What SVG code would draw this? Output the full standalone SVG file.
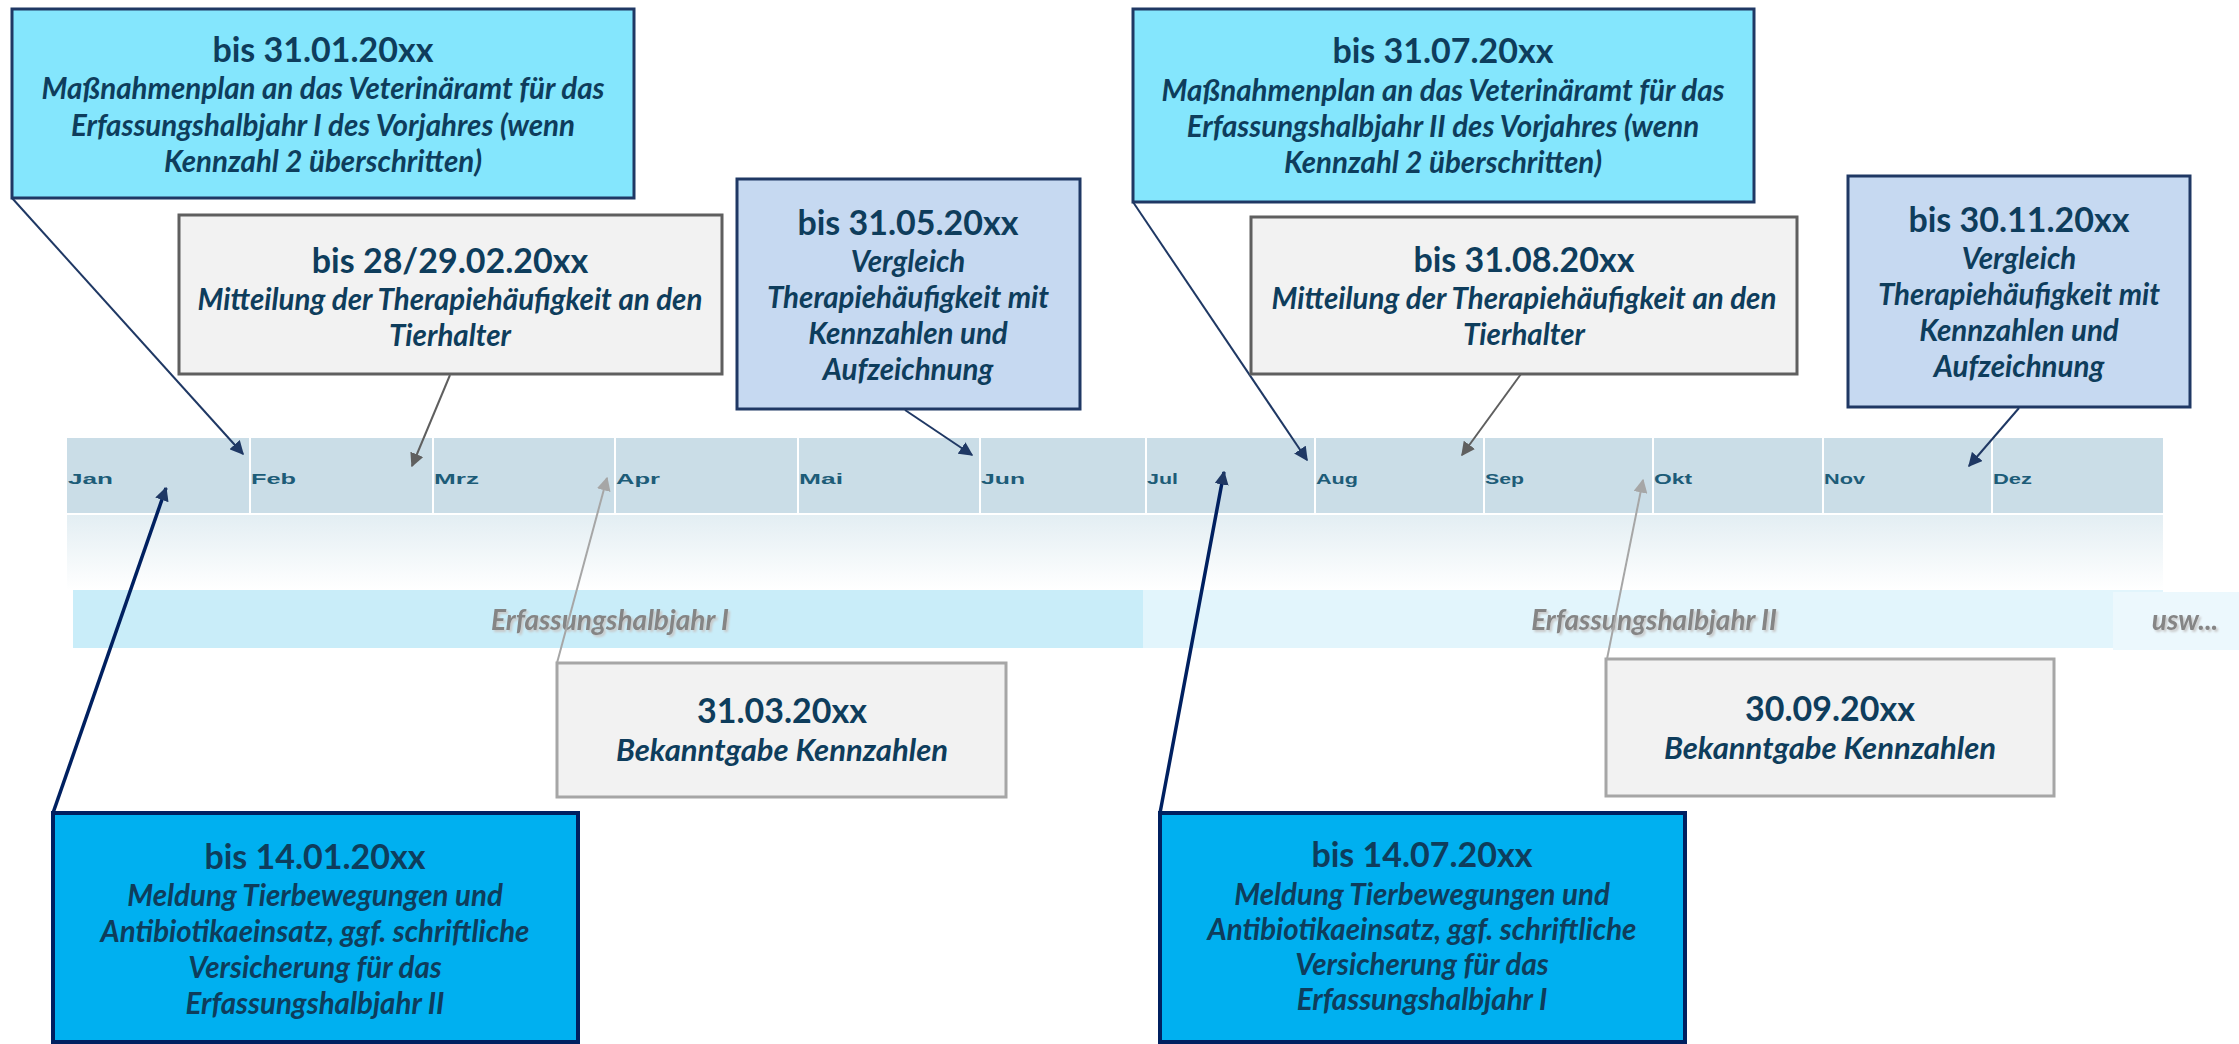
<svg xmlns="http://www.w3.org/2000/svg" width="2239" height="1044" viewBox="0 0 2239 1044">
<style>
.t{font-family:Lato,"Open Sans",sans-serif;font-weight:bold;font-size:34px;fill:#0E3D5C;text-anchor:middle}
.b{font-family:Lato,"Open Sans",sans-serif;font-weight:bold;font-style:italic;font-size:29.5px;fill:#0E3D5C;text-anchor:middle}
.b2{font-family:Lato,"Open Sans",sans-serif;font-weight:bold;font-style:italic;font-size:31px;fill:#0E3D5C;text-anchor:middle}
.m{font-family:"Liberation Sans",Arial,sans-serif;font-weight:bold;font-size:15.5px;fill:#1D5C78}
.h{font-family:Lato,"Open Sans",sans-serif;font-weight:bold;font-style:italic;font-size:28px;fill:#858585;text-anchor:middle;filter:url(#sh)}
.cyan{fill:#84E6FD;stroke:#1F3864;stroke-width:3}
.lb{fill:#C6D9F1;stroke:#1F3864;stroke-width:3}
.gr{fill:#F2F2F2;stroke:#5F5F5F;stroke-width:3}
.gr2{fill:#F2F2F2;stroke:#A6A6A6;stroke-width:3}
.strong{fill:#00B0F0;stroke:#002060;stroke-width:4}
.cn{stroke:#1F3864;stroke-width:2;fill:none;marker-end:url(#an)}
.cnt{stroke:#002060;stroke-width:3.5;fill:none;marker-end:url(#an)}
.cg{stroke:#5F5F5F;stroke-width:2;fill:none;marker-end:url(#ag)}
.cl{stroke:#A6A6A6;stroke-width:2;fill:none;marker-end:url(#al)}
.cell{fill:#CADDE7}
.sep{stroke:#FFFFFF;stroke-width:2}
</style>
<defs>
<marker id="an" viewBox="0 0 10 10" refX="9" refY="5" markerWidth="14" markerHeight="14" markerUnits="userSpaceOnUse" orient="auto"><path d="M0,0 L10,5 L0,10 z" fill="#1F3864"/></marker>
<marker id="ag" viewBox="0 0 10 10" refX="9" refY="5" markerWidth="14" markerHeight="14" markerUnits="userSpaceOnUse" orient="auto"><path d="M0,0 L10,5 L0,10 z" fill="#5F5F5F"/></marker>
<marker id="al" viewBox="0 0 10 10" refX="9" refY="5" markerWidth="14" markerHeight="14" markerUnits="userSpaceOnUse" orient="auto"><path d="M0,0 L10,5 L0,10 z" fill="#A6A6A6"/></marker>
<linearGradient id="fade" x1="0" y1="0" x2="0" y2="1"><stop offset="0" stop-color="#E3EEF3"/><stop offset="1" stop-color="#FFFFFF"/></linearGradient>
<filter id="sh" x="-10%" y="-30%" width="120%" height="160%"><feDropShadow dx="2" dy="2" stdDeviation="1" flood-color="#C8C8C8"/></filter>
</defs>
<rect width="2239" height="1044" fill="#FFFFFF"/>

<g id="timeline">
<rect class="cell" x="67" y="438" width="2096" height="76"/>
<rect x="67" y="515" width="2096" height="75" fill="url(#fade)"/>
<g class="sep">
<line x1="250" y1="438" x2="250" y2="514"/><line x1="433" y1="438" x2="433" y2="514"/><line x1="615" y1="438" x2="615" y2="514"/><line x1="798" y1="438" x2="798" y2="514"/><line x1="980" y1="438" x2="980" y2="514"/><line x1="1146" y1="438" x2="1146" y2="514"/><line x1="1315" y1="438" x2="1315" y2="514"/><line x1="1484" y1="438" x2="1484" y2="514"/><line x1="1653" y1="438" x2="1653" y2="514"/><line x1="1823" y1="438" x2="1823" y2="514"/><line x1="1992" y1="438" x2="1992" y2="514"/>
<line x1="67" y1="514" x2="2163" y2="514"/>
</g>
<text class="m" x="68" y="484" textLength="45" lengthAdjust="spacingAndGlyphs">Jan</text>
<text class="m" x="251" y="484" textLength="45" lengthAdjust="spacingAndGlyphs">Feb</text>
<text class="m" x="434" y="484" textLength="45" lengthAdjust="spacingAndGlyphs">Mrz</text>
<text class="m" x="616" y="484" textLength="44" lengthAdjust="spacingAndGlyphs">Apr</text>
<text class="m" x="799" y="484" textLength="44" lengthAdjust="spacingAndGlyphs">Mai</text>
<text class="m" x="981" y="484" textLength="44" lengthAdjust="spacingAndGlyphs">Jun</text>
<text class="m" x="1147" y="484" textLength="31" lengthAdjust="spacingAndGlyphs">Jul</text>
<text class="m" x="1316" y="484" textLength="42" lengthAdjust="spacingAndGlyphs">Aug</text>
<text class="m" x="1485" y="484" textLength="39" lengthAdjust="spacingAndGlyphs">Sep</text>
<text class="m" x="1654" y="484" textLength="38" lengthAdjust="spacingAndGlyphs">Okt</text>
<text class="m" x="1824" y="484" textLength="41" lengthAdjust="spacingAndGlyphs">Nov</text>
<text class="m" x="1993" y="484" textLength="39" lengthAdjust="spacingAndGlyphs">Dez</text>
</g>

<g id="halbjahre">
<rect x="73" y="590" width="1070" height="58" fill="#C9EDF9"/>
<rect x="1143" y="590" width="1020" height="58" fill="#E2F5FC"/>
<rect x="2113" y="592" width="126" height="58" fill="#ECF8FD"/>
<text class="h" x="610" y="630">Erfassungshalbjahr I</text>
<text class="h" x="1654" y="630">Erfassungshalbjahr II</text>
<text class="h" x="2185" y="630">usw...</text>
</g>

<g id="connectors">
<line class="cn" x1="12" y1="198" x2="243" y2="454"/>
<line class="cg" x1="450" y1="375" x2="412" y2="466"/>
<line class="cn" x1="905" y1="410" x2="972" y2="455"/>
<line class="cn" x1="1133" y1="202" x2="1307" y2="460"/>
<line class="cg" x1="1521" y1="374" x2="1462" y2="455"/>
<line class="cn" x1="2019" y1="408" x2="1969" y2="466"/>
<line class="cnt" x1="53" y1="813" x2="166" y2="488"/>
<line class="cl" x1="557" y1="663" x2="607" y2="478"/>
<line class="cnt" x1="1160" y1="813" x2="1224" y2="472"/>
<line class="cl" x1="1607" y1="659" x2="1643" y2="480"/>
</g>

<g id="n-31-01">
<rect class="cyan" x="12" y="9" width="622" height="189"/>
<text class="t" x="323" y="62">bis 31.01.20xx</text>
<text class="b" x="323" y="99">Maßnahmenplan an das Veterinäramt für das</text>
<text class="b" x="323" y="136">Erfassungshalbjahr I des Vorjahres (wenn</text>
<text class="b" x="323" y="172">Kennzahl 2 überschritten)</text>
</g>

<g id="n-28-02">
<rect class="gr" x="179" y="215" width="543" height="159"/>
<text class="t" x="450" y="273">bis 28/29.02.20xx</text>
<text class="b" x="450" y="310">Mitteilung der Therapiehäufigkeit an den</text>
<text class="b" x="450" y="346">Tierhalter</text>
</g>

<g id="n-31-05">
<rect class="lb" x="737" y="179" width="343" height="230"/>
<text class="t" x="908" y="235">bis 31.05.20xx</text>
<text class="b" x="908" y="272">Vergleich</text>
<text class="b" x="908" y="308">Therapiehäufigkeit mit</text>
<text class="b" x="908" y="344">Kennzahlen und</text>
<text class="b" x="908" y="380">Aufzeichnung</text>
</g>

<g id="n-31-07">
<rect class="cyan" x="1133" y="9" width="621" height="193"/>
<text class="t" x="1443" y="63">bis 31.07.20xx</text>
<text class="b" x="1443" y="101">Maßnahmenplan an das Veterinäramt für das</text>
<text class="b" x="1443" y="137">Erfassungshalbjahr II des Vorjahres (wenn</text>
<text class="b" x="1443" y="173">Kennzahl 2 überschritten)</text>
</g>

<g id="n-31-08">
<rect class="gr" x="1251" y="217" width="546" height="157"/>
<text class="t" x="1524" y="272">bis 31.08.20xx</text>
<text class="b" x="1524" y="309">Mitteilung der Therapiehäufigkeit an den</text>
<text class="b" x="1524" y="345">Tierhalter</text>
</g>

<g id="n-30-11">
<rect class="lb" x="1848" y="176" width="342" height="231"/>
<text class="t" x="2019" y="232">bis 30.11.20xx</text>
<text class="b" x="2019" y="269">Vergleich</text>
<text class="b" x="2019" y="305">Therapiehäufigkeit mit</text>
<text class="b" x="2019" y="341">Kennzahlen und</text>
<text class="b" x="2019" y="377">Aufzeichnung</text>
</g>

<g id="n-31-03">
<rect class="gr2" x="557" y="663" width="449" height="134"/>
<text class="t" x="782" y="723">31.03.20xx</text>
<text class="b2" x="782" y="761">Bekanntgabe Kennzahlen</text>
</g>

<g id="n-30-09">
<rect class="gr2" x="1606" y="659" width="448" height="137"/>
<text class="t" x="1830" y="721">30.09.20xx</text>
<text class="b2" x="1830" y="759">Bekanntgabe Kennzahlen</text>
</g>

<g id="n-14-01">
<rect class="strong" x="53" y="813" width="525" height="229"/>
<text class="t" x="315" y="869">bis 14.01.20xx</text>
<text class="b" x="315" y="906">Meldung Tierbewegungen und</text>
<text class="b" x="315" y="942">Antibiotikaeinsatz, ggf. schriftliche</text>
<text class="b" x="315" y="978">Versicherung für das</text>
<text class="b" x="315" y="1014">Erfassungshalbjahr II</text>
</g>

<g id="n-14-07">
<rect class="strong" x="1160" y="813" width="525" height="229"/>
<text class="t" x="1422" y="867">bis 14.07.20xx</text>
<text class="b" x="1422" y="905">Meldung Tierbewegungen und</text>
<text class="b" x="1422" y="940">Antibiotikaeinsatz, ggf. schriftliche</text>
<text class="b" x="1422" y="975">Versicherung für das</text>
<text class="b" x="1422" y="1010">Erfassungshalbjahr I</text>
</g>
</svg>
